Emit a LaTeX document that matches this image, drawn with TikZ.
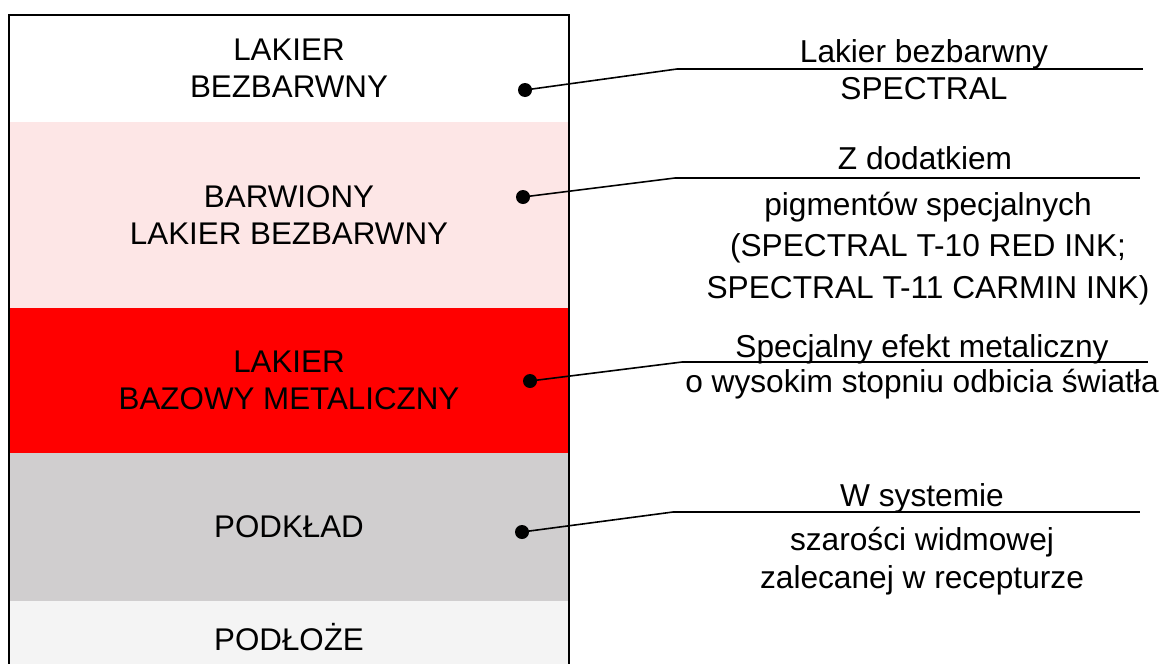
\documentclass[tikz,border=0pt]{standalone}
\usepackage{fontspec}
\setmainfont{Liberation Sans}
\usetikzlibrary{positioning}
\definecolor{tintpink}{HTML}{FDE6E6}
\definecolor{primergray}{HTML}{D0CECF}
\definecolor{subgray}{HTML}{F4F4F4}
\tikzset{
  layer/.style={rectangle, inner sep=0pt, outer sep=0pt, minimum width=420pt,
    align=center, font=\fontsize{23.5}{28}\selectfont},
  note/.style={inner sep=0pt, align=center, font=\fontsize{23.75}{28.5}\selectfont},
  dot/.style={circle, fill=black, inner sep=0pt, minimum size=10.5pt},
  leader/.style={line width=1.2pt},
  rule/.style={line width=2.2pt},
}
\begin{document}
\begin{tikzpicture}[x=0.75pt,y=-0.75pt]
\useasboundingbox (0,0) rectangle (1164,664);

%Declare layers.
\node[layer, minimum height=80.25pt, anchor=north west] (clear) at (9,15) {LAKIER\\BEZBARWNY};
\node[layer, fill=tintpink, minimum height=139.5pt, below=0pt of clear] (tint) {BARWIONY\\LAKIER BEZBARWNY};
\node[layer, fill=red, minimum height=108.75pt, below=0pt of tint] (base) {LAKIER\\BAZOWY METALICZNY};
\node[layer, fill=primergray, minimum height=111pt, below=0pt of base] (primer) {PODKŁAD};
\node[layer, fill=subgray, minimum height=54pt, below=0pt of primer] (sub) {PODŁOŻE};

%Box outline.
\draw[line width=1.5pt] (sub.south west) -- (clear.north west) -- (clear.north east) -- (sub.south east);

%Declare dots.
\node[dot] (d1) at (525,90) {};
\node[dot] (d2) at (523,197) {};
\node[dot] (d3) at (530,381) {};
\node[dot] (d4) at (522,532) {};

%Rule ends.
\coordinate (r1a) at (677,69);
\coordinate (r1b) at (1143,69);
\coordinate (r2a) at (675,178);
\coordinate (r2b) at (1140,178);
\coordinate (r3a) at (682,362);
\coordinate (r3b) at (1148,362);
\coordinate (r4a) at (673,512);
\coordinate (r4b) at (1140,512);

%Declare notes (multi-line ones sit on their last baseline).
\node[note, anchor=base] (n1) at (924,62) {Lakier bezbarwny};
\node[note, anchor=base] (m1) at (924,99) {SPECTRAL};
\node[note, anchor=base] (n2) at (925,169) {Z dodatkiem};
\node[note, anchor=base, font=\fontsize{23.75}{31}\selectfont] (m2) at (928,298) {pigmentów specjalnych\\(SPECTRAL T-10 RED INK;\\SPECTRAL T-11 CARMIN INK)};
\node[note, anchor=base] (n3) at (922,357) {Specjalny efekt metaliczny};
\node[note, anchor=base] (m3) at (922,392) {o wysokim stopniu odbicia światła};
\node[note, anchor=base] (n4) at (922,506) {W systemie};
\node[note, anchor=base] (m4) at (922,588) {szarości widmowej\\zalecanej w recepturze};

%Setup edges.
\draw[leader] (d1.center) -- (r1a);
\draw[leader] (d2.center) -- (r2a);
\draw[leader] (d3.center) -- (r3a);
\draw[leader] (d4.center) -- (r4a);
\draw[rule] (r1a) -- (r1b);
\draw[rule] (r2a) -- (r2b);
\draw[rule] (r3a) -- (r3b);
\draw[rule] (r4a) -- (r4b);

\end{tikzpicture}
\end{document}
